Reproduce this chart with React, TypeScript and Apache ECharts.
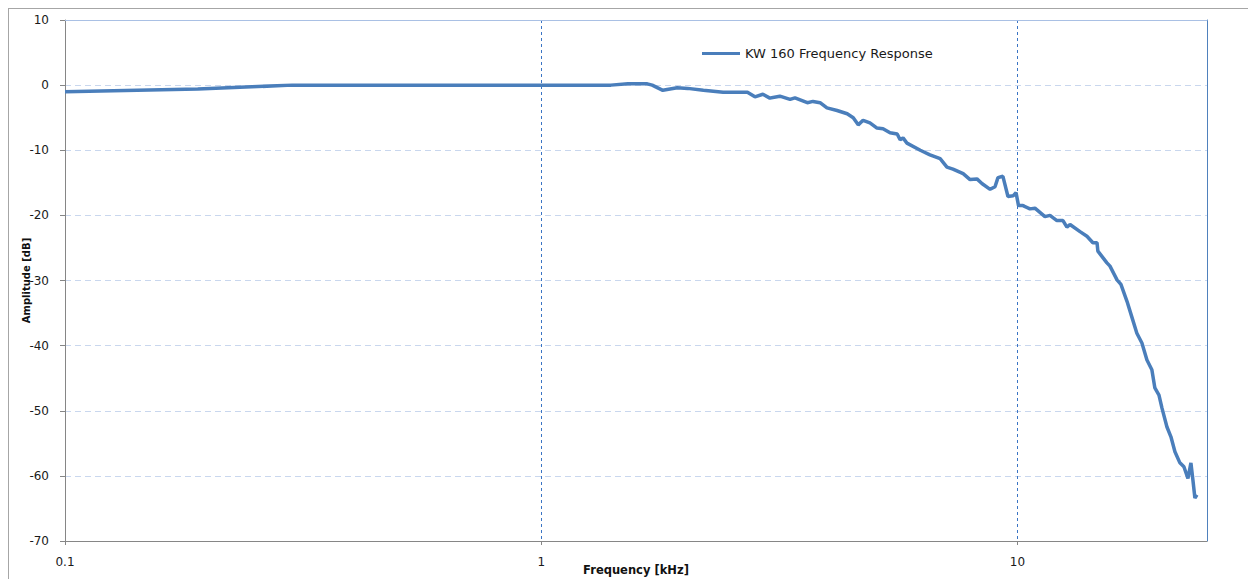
import React, { useEffect, useRef } from "react";
import * as echarts from "echarts";

const seriesName = "KW 160 Frequency Response";
const xAxisTitle = "Frequency [kHz]";
const yAxisTitle = "Amplitude [dB]";

const freqKHz = [
  0.1, 0.19, 0.3, 1.0, 1.4, 1.52, 1.67, 1.71, 1.8, 1.93, 2.03, 2.19, 2.41, 2.71, 2.81,
  2.92, 3.02, 3.17, 3.33, 3.41, 3.62, 3.72, 3.85, 3.98, 4.18, 4.39, 4.52, 4.63, 4.74,
  4.9, 5.07, 5.22, 5.4, 5.59, 5.67, 5.75, 5.86, 6.25, 6.55, 6.88, 7.11, 7.32, 7.69,
  7.95, 8.22, 8.42, 8.76, 8.97, 9.1, 9.32, 9.55, 9.79, 9.93, 10.05, 10.27, 10.62,
  10.88, 11.42, 11.7, 12.1, 12.46, 12.7, 12.89, 13.53, 13.99, 14.4, 14.69, 14.75,
  15.41, 15.64, 16.18, 16.49, 16.98, 17.4, 17.81, 18.25, 18.7, 19.15, 19.43, 19.82,
  20.11, 20.6, 21.0, 21.41, 21.93, 22.36, 22.8, 23.13, 23.35, 23.58, 23.81,
];

const amplitudeDb = [
  -1.0, -0.6, 0.0, 0.0, 0.0, 0.2, 0.2, 0.0, -0.8, -0.4, -0.5, -0.8, -1.1, -1.1, -1.8,
  -1.4, -2.0, -1.7, -2.2, -1.95, -2.7, -2.5, -2.7, -3.5, -3.9, -4.4, -5.0, -6.1, -5.4,
  -5.8, -6.6, -6.7, -7.3, -7.5, -8.4, -8.1, -8.9, -10.0, -10.7, -11.3, -12.6, -12.9,
  -13.6, -14.5, -14.4, -15.1, -16.0, -15.6, -14.2, -14.0, -17.1, -17.0, -16.5, -18.5,
  -18.5, -19.0, -18.9, -20.2, -20.0, -20.8, -20.8, -21.8, -21.4, -22.5, -23.2, -24.2,
  -24.2, -25.5, -27.3, -27.8, -29.9, -30.6, -33.2, -35.7, -38.1, -39.6, -42.2, -43.7,
  -46.5, -47.6, -49.6, -52.5, -54.0, -56.3, -58.0, -58.6, -60.4, -58.0, -60.6, -63.4,
  -62.9,
];

const xMin = 0.1;
const xMax = 25;
const yMin = -70;
const yMax = 10;
const yStep = 10;

export default function App() {
  const ref = useRef<HTMLDivElement>(null);
  useEffect(() => {
    if (!ref.current) return;
    const chart = echarts.init(ref.current, null, { renderer: "svg" });
    const data = freqKHz.map((f, i) => [f, amplitudeDb[i]]);
    const tickFont = { fontFamily: "DejaVu Sans", fontSize: 12, color: "#1a1a1a" };
    chart.setOption({
      animation: false,
      backgroundColor: "#fff",
      grid: {
        left: 56,
        top: 11,
        right: 41,
        bottom: 38,
        containLabel: false,
        outerBoundsMode: "none",
      },
      legend: {
        data: [seriesName],
        left: 688,
        top: 33,
        icon: "rect",
        itemWidth: 38,
        itemHeight: 3,
        itemGap: 4,
        textStyle: { fontFamily: "DejaVu Sans", fontSize: 13, color: "#1a1a1a" },
      },
      xAxis: [
        {
          type: "log",
          logBase: 10,
          min: xMin,
          max: xMax,
          name: xAxisTitle,
          nameLocation: "middle",
          nameGap: 23,
          nameMoveOverlap: false,
          nameTextStyle: {
            fontFamily: "DejaVu Sans",
            fontWeight: "bold",
            fontSize: 11.5,
            color: "#111",
          },
          axisLine: { show: true, onZero: false, lineStyle: { color: "#868686", width: 1 } },
          axisTick: { show: true, length: 4, lineStyle: { color: "#868686" } },
          axisLabel: {
            ...tickFont,
            margin: 15,
            showMaxLabel: false,
            formatter: (v: number) => String(v),
          },
          splitLine: {
            show: true,
            lineStyle: { color: "#3a74c4", type: [3, 3], width: 1 },
          },
          minorTick: { show: false },
          minorSplitLine: { show: false },
        },
        {
          type: "log",
          logBase: 10,
          min: xMin,
          max: xMax,
          position: "top",
          axisLine: { show: true, onZero: false, lineStyle: { color: "#a9c0e4", width: 1 } },
          axisTick: { show: false },
          axisLabel: { show: false },
          splitLine: { show: false },
        },
      ],
      yAxis: [
        {
          type: "value",
          min: yMin,
          max: yMax,
          interval: yStep,
          name: yAxisTitle,
          nameLocation: "middle",
          nameGap: 34,
          nameMoveOverlap: false,
          nameRotate: 90,
          nameTextStyle: {
            fontFamily: "DejaVu Sans",
            fontWeight: "bold",
            fontSize: 10,
            color: "#111",
          },
          axisLine: { show: true, onZero: false, lineStyle: { color: "#868686", width: 1 } },
          axisTick: { show: true, length: 5, lineStyle: { color: "#868686" } },
          axisLabel: { ...tickFont, margin: 16 },
          splitLine: {
            show: true,
            lineStyle: { color: "#c9d7ee", type: [6, 4], width: 1 },
          },
        },
        {
          type: "value",
          min: yMin,
          max: yMax,
          interval: yStep,
          position: "right",
          axisLine: { show: true, onZero: false, lineStyle: { color: "#4f81bd", width: 1 } },
          axisTick: { show: false },
          axisLabel: { show: false },
          splitLine: { show: false },
        },
      ],
      series: [
        {
          name: seriesName,
          type: "line",
          xAxisIndex: 0,
          yAxisIndex: 0,
          data,
          showSymbol: false,
          symbol: "none",
          smooth: false,
          lineStyle: { color: "#4a7ebb", width: 3.5 },
          itemStyle: { color: "#4a7ebb" },
        },
      ],
    });
    return () => chart.dispose();
  }, []);
  return (
    <div
      style={{
        position: "fixed",
        left: 8,
        top: 8,
        width: 1240,
        height: 571,
        borderTop: "1px solid #a6a6a6",
        borderLeft: "1px solid #a6a6a6",
        boxSizing: "border-box",
        overflow: "hidden",
      }}
    >
      <div ref={ref} style={{ width: 1239, height: 570 }} />
    </div>
  );
}
